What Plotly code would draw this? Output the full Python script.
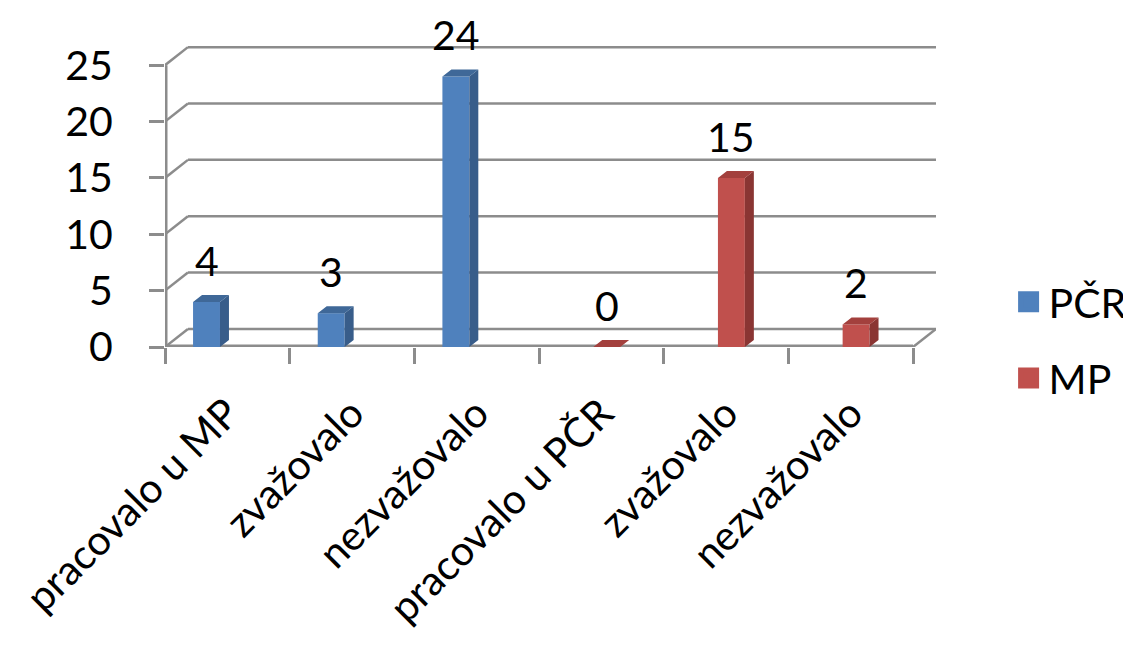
import plotly.graph_objects as go

# ---- data ----
categories = ["pracovalo u MP", "zvažovalo", "nezvažovalo",
              "pracovalo u PČR", "zvažovalo", "nezvažovalo"]
pcr_values = [4, 3, 24, None, None, None]
mp_values = [None, None, None, 0, 15, 2]
series_names = ["PČR", "MP"]
y_ticks = [0, 5, 10, 15, 20, 25]

# ---- style ----
FONT = "Lato"
FS = 41
FS_X = 41
GRID = "#8C8C8C"
COLORS = {
    "PČR": {"front": "#4F81BD", "side": "#385D8A", "top": "#3F6898"},
    "MP": {"front": "#C0504D", "side": "#8A3533", "top": "#A3403D"},
}
BAR_W = 0.216
OFFSETS = {"PČR": -0.275, "MP": -0.065}
BAR_DX, BAR_DY = 0.072, 0.62       # bar depth (x units, y units)
WALL_DX, WALL_DY = 0.184, 1.6      # back-wall offset

xs = list(range(len(categories)))
series_vals = {"PČR": pcr_values, "MP": mp_values}

fig = go.Figure()

for name in series_names:
    vals = series_vals[name]
    off = OFFSETS[name]
    c = COLORS[name]
    fig.add_trace(go.Bar(
        x=xs, y=vals, name=name, width=BAR_W, offset=off,
        marker=dict(color=c["front"], line=dict(width=0)),
        showlegend=False, hoverinfo="skip"))
    side_x, side_y, top_x, top_y = [], [], [], []
    for x, v in zip(xs, vals):
        if v is None:
            continue
        xl = x + off
        xr = xl + BAR_W
        side_x += [xr, xr, xr + BAR_DX, xr + BAR_DX, xr, None]
        side_y += [0, v, v + BAR_DY, BAR_DY, 0, None]
        top_x += [xl, xr, xr + BAR_DX, xl + BAR_DX, xl, None]
        top_y += [v, v, v + BAR_DY, v + BAR_DY, v, None]
    fig.add_trace(go.Scatter(x=side_x, y=side_y, mode="lines", fill="toself",
                             fillcolor=c["side"], line=dict(width=0),
                             showlegend=False, hoverinfo="skip"))
    fig.add_trace(go.Scatter(x=top_x, y=top_y, mode="lines", fill="toself",
                             fillcolor=c["top"], line=dict(width=0),
                             showlegend=False, hoverinfo="skip"))
    # data labels
    for x, v in zip(xs, vals):
        if v is None:
            continue
        fig.add_annotation(x=x + off + BAR_W / 2, y=v, text=str(v),
                           showarrow=False, yanchor="bottom", yshift=15,
                           font=dict(family=FONT, size=FS, color="black"))
    # legend entry
    fig.add_trace(go.Scatter(x=[None], y=[None], mode="markers", name=name,
                             legendgroup=name,
                             marker=dict(symbol="square", size=16, color=c["front"],
                                         line=dict(width=5, color=c["front"]))))

# 3D frame: back-wall gridlines, floor, axis lines
line_style = dict(color=GRID, width=2.5)
x_left, x_right = xs[0] - 0.5, xs[-1] + 0.5
for v in y_ticks:
    fig.add_shape(type="line", x0=x_left + WALL_DX, x1=x_right + WALL_DX,
                  y0=v + WALL_DY, y1=v + WALL_DY, line=line_style, layer="below")
    fig.add_shape(type="line", x0=x_left, x1=x_left + WALL_DX,
                  y0=v, y1=v + WALL_DY, line=line_style, layer="below")
fig.add_shape(type="line", x0=x_right, x1=x_right + WALL_DX, y0=0, y1=WALL_DY,
              line=line_style, layer="below")
fig.add_shape(type="line", x0=x_left, x1=x_right, y0=0, y1=0,
              line=dict(color=GRID, width=5), layer="below")
fig.add_shape(type="line", x0=x_left, x1=x_left, y0=0, y1=y_ticks[-1],
              line=dict(color=GRID, width=5), layer="below")

# the page body has an 8px default margin, so the figure is 8px smaller
fig.update_layout(
    width=1123, height=640,
    margin=dict(l=157, r=195, t=38, b=301, autoexpand=False),
    paper_bgcolor="white", plot_bgcolor="white",
    barmode="overlay",
    font=dict(family=FONT, size=FS, color="black"),
    xaxis=dict(range=[x_left, x_right + WALL_DX], tickvals=xs, ticktext=categories,
               tickangle=-45, ticks="", showgrid=False, zeroline=False, showline=False,
               automargin=False, ticklabelstandoff=33, ticklabeloverflow="allow",
               tickfont=dict(family=FONT, size=FS_X, color="black"),
               minor=dict(tickvals=[x - 0.5 for x in xs] + [x_right], ticks="outside",
                          ticklen=16, tickwidth=2.5, tickcolor=GRID, showgrid=False)),
    yaxis=dict(range=[0, y_ticks[-1] + WALL_DY + 0.1], tickvals=y_ticks,
               ticks="outside", ticklen=15, tickwidth=2.5, tickcolor=GRID,
               showgrid=False, zeroline=False, showline=False, automargin=False,
               ticklabelstandoff=28,
               tickfont=dict(family=FONT, size=FS, color="black")),
    legend=dict(xref="container", yref="container", x=0.891, y=0.481,
                yanchor="middle", xanchor="left", traceorder="grouped",
                tracegroupgap=20, font=dict(family=FONT, size=FS, color="black"),
                bgcolor="rgba(0,0,0,0)"),
    showlegend=True,
)

fig.write_html("out.html")
